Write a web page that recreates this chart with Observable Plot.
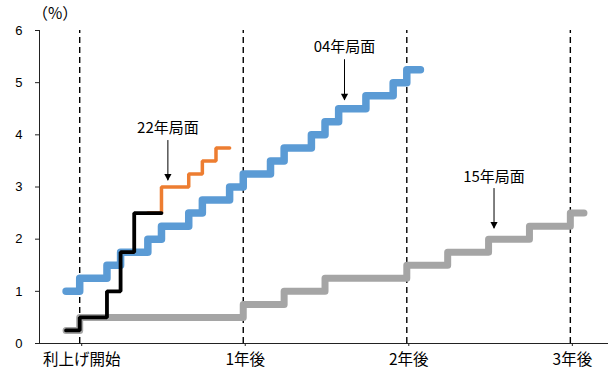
<!DOCTYPE html>
<html><head><meta charset="utf-8">
<script src="https://cdn.jsdelivr.net/npm/d3@7"></script>
<script src="https://cdn.jsdelivr.net/npm/@observablehq/plot@0.6"></script>
<style>
body{margin:0;background:#fff}
</style>
</head><body><div id="chart"></div>
<script>
// months relative to first hike (0 = 利上げ開始)
const months04 = [-1,0,1,2,3,4,5,6,7,8,9,10,11,12,13,14,15,16,17,18,19,20,21,22,23,24,25];
const rate04   = [1.0,1.25,1.25,1.5,1.75,1.75,2.0,2.25,2.25,2.5,2.75,2.75,3.0,3.25,3.25,3.5,3.75,3.75,4.0,4.25,4.5,4.5,4.75,4.75,5.0,5.25,5.25];

const months15 = [-1,0,1,2,3,4,5,6,7,8,9,10,11,12,13,14,15,16,17,18,19,20,21,22,23,24,25,26,27,28,29,30,31,32,33,34,35,36,37];
const rate15   = [0.25,0.5,0.5,0.5,0.5,0.5,0.5,0.5,0.5,0.5,0.5,0.5,0.5,0.75,0.75,0.75,1.0,1.0,1.0,1.25,1.25,1.25,1.25,1.25,1.25,1.5,1.5,1.5,1.75,1.75,1.75,2.0,2.0,2.0,2.25,2.25,2.25,2.5,2.5];

const months22 = [-1,0,1,2,3,4,5,6];
const rate22   = [0.25,0.5,0.5,1.0,1.75,2.5,2.5,2.5];

const months22f = [5,6,7,8,9,10,11];
const rate22f   = [2.5,3.0,3.0,3.25,3.5,3.75,3.75];

const yTicks = [0,1,2,3,4,5,6];
const xTickValues = [0,12,24,36];
const xTickLabels = ["利上げ開始","1年後","2年後","3年後"];
const unitLabel = "（%）";

const annoLabels = ["22年局面","04年局面","15年局面"];
const annoX      = [6.47, 19.43, 30.4];
const annoTextY  = [4.12, 5.68, 3.19];
const annoFromY  = [3.89, 5.44, 2.97];
const annoToY    = [3.12, 4.66, 2.20];

const rows = (xs, ys) => xs.map((x, i) => ({x, y: ys[i]}));
const annos = annoLabels.map((label, i) => ({label, x: annoX[i], ty: annoTextY[i], y1: annoFromY[i], y2: annoToY[i]}));

const downTriangle = {
  draw(ctx, size) {
    const r = Math.sqrt(size / Math.PI);
    ctx.moveTo(-r * 0.8, -r * 1.5);
    ctx.lineTo(r * 0.8, -r * 1.5);
    ctx.lineTo(0, 0);
    ctx.closePath();
  }
};

const FONT = '"Liberation Sans","Noto Sans CJK JP",sans-serif';
const CJK = '"Noto Sans CJK JP","Liberation Sans",sans-serif';

const chart = Plot.plot({
  width: 608,
  height: 369,
  marginLeft: 39,
  marginRight: 0,
  marginTop: 30,
  marginBottom: 26,
  style: {fontFamily: FONT, fontSize: "14px", background: "white", color: "black", overflow: "visible"},
  x: {domain: [-2.95, 38.8]},
  y: {domain: [0, 6]},
  marks: [
    Plot.ruleX(xTickValues, {y1: 0, y2: 6, stroke: "black", strokeWidth: 1.4, strokeDasharray: "6,4"}),
    Plot.ruleY([0], {stroke: "#222", strokeWidth: 1}),
    Plot.ruleX([-2.95], {y1: 0, y2: 6, stroke: "#222", strokeWidth: 1}),
    Plot.axisY({ticks: yTicks, tickSize: 4, tickPadding: 13, label: null, fontSize: 13, stroke: "#222",
      tickFormat: d => String(d)}),
    Plot.axisX({ticks: xTickValues, tickSize: 3, tickPadding: 7, label: null, fontSize: 15.5, fontFamily: CJK, dx: 2,
      tickFormat: d => xTickLabels[xTickValues.indexOf(d)], stroke: "#222"}),
    Plot.text([unitLabel], {frameAnchor: "top-left", text: d => d, dx: -7, dy: -23, textAnchor: "start",
      lineAnchor: "top", fontSize: 15.5, fontFamily: CJK, fill: "black"}),
    Plot.line(rows(months15, rate15), {x: "x", y: "y", curve: "step-after", stroke: "#A5A5A5", strokeWidth: 7, strokeLinecap: "round", strokeLinejoin: "round"}),
    Plot.line(rows(months04, rate04), {x: "x", y: "y", curve: "step-after", stroke: "#5B9BD5", strokeWidth: 7.5, strokeLinecap: "round", strokeLinejoin: "round"}),
    Plot.line(rows(months22f, rate22f), {x: "x", y: "y", curve: "step-after", stroke: "#ED7D31", strokeWidth: 3.5, strokeLinecap: "round", strokeLinejoin: "miter"}),
    Plot.line(rows(months22, rate22), {x: "x", y: "y", curve: "step-after", stroke: "black", strokeWidth: 3.8, strokeLinecap: "round", strokeLinejoin: "miter"}),
    Plot.ruleX(annos, {x: "x", y1: "y1", y2: "y2", stroke: "black", strokeWidth: 1}),
    Plot.dot(annos, {x: "x", y: "y2", symbol: downTriangle, r: 4.5, fill: "black", stroke: null}),
    Plot.text(annos, {x: "x", y: "ty", text: "label", fontSize: 15, fontFamily: CJK, fill: "black"})
  ]
});
document.getElementById("chart").appendChild(chart);
</script>
</body></html>
